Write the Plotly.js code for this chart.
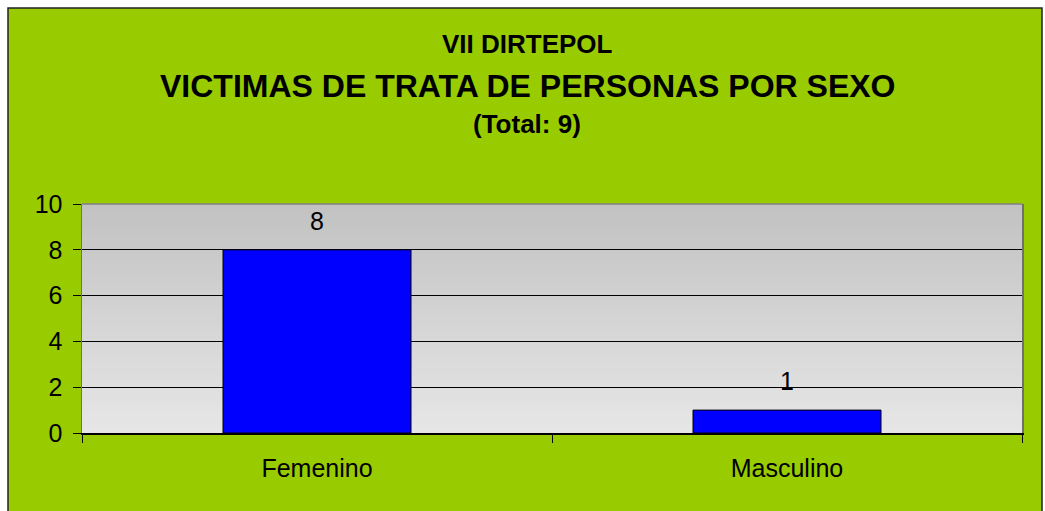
<!DOCTYPE html>
<html>
<head>
<meta charset="utf-8">
<script src="https://cdn.plot.ly/plotly-3.0.1.min.js"></script>
<style>html,body{margin:0;padding:0;background:#fff;}#chart{width:1045px;height:511px;}</style>
</head>
<body>
<div id="chart"></div>
<script>
var categories = ["Femenino", "Masculino"];
var victimas = [8, 1];
var yTicks = [0, 2, 4, 6, 8, 10];
var titleTop = "VII DIRTEPOL";
var titleMain = "VICTIMAS DE TRATA DE PERSONAS POR SEXO";
var titleSub = "(Total: 9)";

(function () {
  var W = 1045, H = 511;
  var L = 82, R = 23, T = 204, B = 78;
  var pw = W - L - R, ph = H - T - B;
  function px(x) { return (x - L) / pw; }
  function py(y) { return (H - B - y) / ph; }

  var FONT = "Liberation Sans, Arial, sans-serif";

  var shapes = [];
  shapes.push({type: "rect", xref: "paper", yref: "paper", layer: "below",
    x0: px(8), x1: px(1042), y0: py(530), y1: py(8),
    fillcolor: "#99CC00", line: {color: "#222222", width: 1.5}});
  var N = 46, c0 = 194, c1 = 230;
  for (var i = 0; i < N; i++) {
    var c = Math.round(c0 + (c1 - c0) * (i / (N - 1)));
    var col = "rgb(" + c + "," + c + "," + c + ")";
    var yTopS = 1 - i / N;
    var yBotS = (i === N - 1) ? 0 : Math.max(0, 1 - (i + 1.6) / N);
    shapes.push({type: "rect", xref: "paper", yref: "paper", layer: "below",
      x0: 0, x1: 1, y0: yBotS, y1: yTopS,
      fillcolor: col, line: {width: 0}});
  }
  shapes.push({type: "line", xref: "paper", yref: "paper", layer: "above",
    x0: 0, x1: 1, y0: 1, y1: 1, line: {color: "#808080", width: 1.5}});

  var annotations = [
    {text: "<b>" + titleTop + "</b>", xref: "paper", yref: "paper", x: px(527), y: py(44),
     xanchor: "center", yanchor: "middle", showarrow: false, font: {family: FONT, size: 26, color: "#000"}},
    {text: "<b>" + titleMain + "</b>", xref: "paper", yref: "paper", x: px(527), y: py(86),
     xanchor: "center", yanchor: "middle", showarrow: false, font: {family: FONT, size: 32, color: "#000"}},
    {text: "<b>" + titleSub + "</b>", xref: "paper", yref: "paper", x: px(527), y: py(124),
     xanchor: "center", yanchor: "middle", showarrow: false, font: {family: FONT, size: 26, color: "#000"}}
  ];
  for (var k = 0; k < categories.length; k++) {
    annotations.push({text: String(victimas[k]), x: categories[k], y: victimas[k], xref: "x", yref: "y",
      xanchor: "center", yanchor: "bottom", yshift: 13, showarrow: false,
      font: {family: FONT, size: 25, color: "#000"}});
  }

  var data = [{
    type: "bar", x: categories, y: victimas,
    marker: {color: "#0000FF", line: {color: "#000000", width: 1}},
    hoverinfo: "none"
  }];

  var layout = {
    width: W, height: H,
    margin: {l: L, r: R, t: T, b: B, pad: 0},
    paper_bgcolor: "#FFFFFF",
    plot_bgcolor: "rgba(0,0,0,0)",
    showlegend: false,
    bargap: 0.6,
    font: {family: FONT, color: "#000"},
    xaxis: {
      type: "category", tickson: "boundaries", ticks: "outside", ticklen: 8, tickcolor: "#000", tickwidth: 1,
      showline: true, linecolor: "#000", linewidth: 1.5, showgrid: false, zeroline: false,
      tickfont: {family: FONT, size: 25, color: "#000"}, ticklabelstandoff: 12
    },
    yaxis: {
      range: [0, 10], tickvals: yTicks, ticktext: yTicks.map(String),
      ticks: "outside", ticklen: 8, tickcolor: "#000", tickwidth: 1,
      showline: true, linecolor: "#707070", linewidth: 1.5, mirror: true,
      showgrid: true, gridcolor: "#000", gridwidth: 1, zeroline: false,
      tickfont: {family: FONT, size: 25, color: "#000"}, ticklabelstandoff: 5
    },
    shapes: shapes,
    annotations: annotations
  };

  Plotly.newPlot("chart", data, layout, {staticPlot: true, displayModeBar: false});
})();
</script>
</body>
</html>
